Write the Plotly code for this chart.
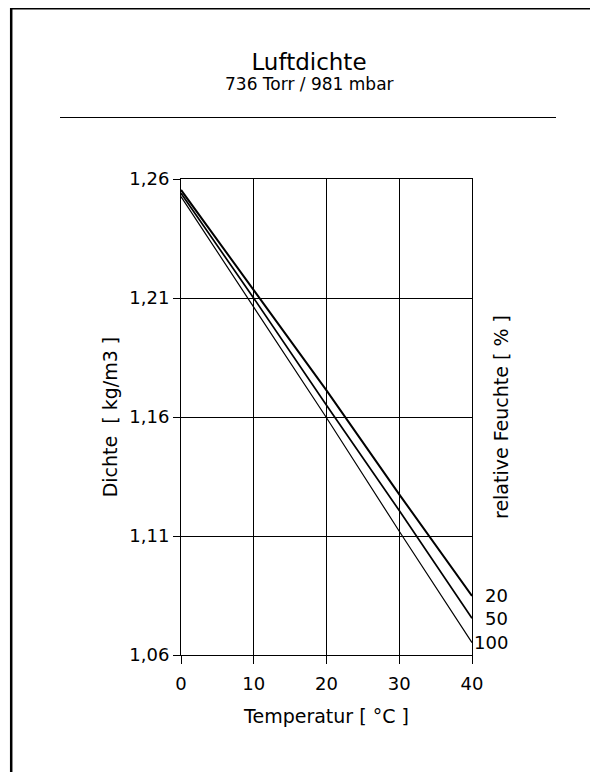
import plotly.graph_objects as go

# ---- data ----
temperature = [0, 10, 20, 30, 40]
rh_labels = ["20", "50", "100"]
rho_rh20 = [1.2554, 1.2132, 1.1712, 1.1275, 1.0848]
rho_rh50 = [1.2540, 1.2099, 1.1649, 1.1207, 1.0754]
rho_rh100 = [1.2526, 1.2062, 1.1597, 1.1120, 1.0652]
x_ticks = [0, 10, 20, 30, 40]
y_ticks = [1.06, 1.11, 1.16, 1.21, 1.26]

OFF = 8                      # page offset of the figure (body margin)
W, H = 598 - OFF, 772 - OFF  # figure size: reaches the window's right and bottom edges
L, R, T, B = 181, 472, 179, 655  # plot area in page pixels


def px(x):
    return (x - L) / (R - L)


def py(y):
    return (B - y) / (B - T)


FONT = "DejaVu Sans"
series = [rho_rh20, rho_rh50, rho_rh100]
widths = [2.0, 1.7, 1.2]

fig = go.Figure()
for lab, vals, w in zip(rh_labels, series, widths):
    fig.add_trace(go.Scatter(x=temperature, y=vals, mode="lines", name=lab,
                             line=dict(color="black", width=w),
                             showlegend=False, hoverinfo="x+y"))

annotations = []
for lab, vals in zip(rh_labels, series):
    annotations.append(dict(x=px(510), xref="paper", y=vals[-1], yref="y",
                            text=lab, showarrow=False, xanchor="right",
                            yanchor="middle", font=dict(size=18, family=FONT, color="black")))

annotations.append(dict(x=px(501), xref="paper", y=0.5, yref="paper",
                        text="relative Feuchte [ % ]", textangle=-90, showarrow=False,
                        xanchor="center", yanchor="middle",
                        font=dict(size=19, family=FONT, color="black")))

annotations.append(dict(x=px(309), xref="paper", y=py(84), yref="paper",
                        text="736 Torr / 981 mbar", showarrow=False,
                        xanchor="center", yanchor="middle",
                        font=dict(size=17, family=FONT, color="black")))

shapes = [
    dict(type="line", xref="paper", yref="paper", x0=px(60), x1=px(556),
         y0=py(117.5), y1=py(117.5), line=dict(color="black", width=1)),
    dict(type="line", xref="paper", yref="paper", x0=px(11.2), x1=px(11.2),
         y0=py(8), y1=py(800), line=dict(color="black", width=2.5)),
    dict(type="line", xref="paper", yref="paper", x0=px(10), x1=px(620),
         y0=py(8.3), y1=py(8.3), line=dict(color="black", width=2.5)),
]

fig.update_layout(
    width=W, height=H,
    margin=dict(l=L - OFF, r=(OFF + W) - R, t=T - OFF, b=(OFF + H) - B, autoexpand=False),
    paper_bgcolor="white", plot_bgcolor="white",
    separators=",.",
    font=dict(family=FONT, size=18, color="black"),
    title=dict(text="Luftdichte", x=px(309), xref="paper", xanchor="center",
               y=1 - (61.5 - OFF) / H, yref="container", yanchor="middle",
               font=dict(size=23, family=FONT, color="black")),
    annotations=annotations,
    shapes=shapes,
    xaxis=dict(range=[0, 40], tickvals=x_ticks, tickformat="d",
               showgrid=True, gridcolor="black", gridwidth=1,
               showline=True, linecolor="black", linewidth=1, mirror=True,
               ticks="outside", ticklen=8, tickcolor="black", tickwidth=1,
               ticklabelstandoff=4,
               zeroline=False, automargin=False,
               tickfont=dict(size=18, family=FONT),
               title=dict(text="Temperatur [ °C ]", standoff=17,
                          font=dict(size=19, family=FONT))),
    yaxis=dict(range=[1.06, 1.26], tickvals=y_ticks, tickformat=".2f",
               showgrid=True, gridcolor="black", gridwidth=1,
               showline=True, linecolor="black", linewidth=1, mirror=True,
               ticks="outside", ticklen=7, tickcolor="black", tickwidth=1,
               zeroline=False, automargin=False,
               tickfont=dict(size=18, family=FONT),
               title=dict(text="Dichte\u00a0\u00a0[ kg/m3 ]", standoff=6,
                          font=dict(size=19, family=FONT))),
)

fig.write_html("out.html")
